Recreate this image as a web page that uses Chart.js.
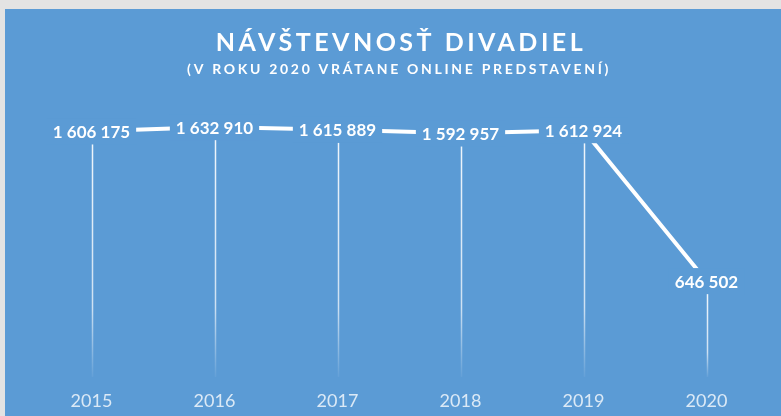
<!DOCTYPE html>
<html>
<head>
<meta charset="utf-8">
<script src="https://cdn.jsdelivr.net/npm/chart.js@4"></script>
<style>
  html, body { margin: 0; padding: 0; background: #e3e3e3; }
  #wrap { width: 781px; height: 416px; }
</style>
</head>
<body>
<div id="wrap"><canvas id="divadlaChart" width="781" height="416"></canvas></div>
<script>
  // data
  const years = ["2015", "2016", "2017", "2018", "2019", "2020"]
  const visitors = [1606175, 1632910, 1615889, 1592957, 1612924, 646502]
  const titleText = "NÁVŠTEVNOSŤ DIVADIEL"
  const subtitleText = "(V ROKU 2020 VRÁTANE ONLINE PREDSTAVENÍ)"

  const blue = "#5b9bd5"
  const fontName = "Lato, 'Open Sans', sans-serif"

  function fmt(v) {
    return String(v).replace(/\B(?=(\d{3})+(?!\d))/g, " ")
  }

  // background panel + title
  const panelPlugin = {
    id: "panel",
    beforeDraw(chart) {
      const ctx = chart.ctx
      ctx.save()
      ctx.fillStyle = "#e3e3e3"
      ctx.fillRect(0, 0, chart.width, chart.height)
      ctx.fillStyle = blue
      ctx.fillRect(5, 9, chart.width - 5, chart.height - 9)

      ctx.fillStyle = "#ffffff"
      ctx.textAlign = "center"
      ctx.textBaseline = "middle"
      ctx.letterSpacing = "3.5px"
      ctx.font = "bold 25px " + fontName
      ctx.fillText(titleText, 401, 43)
      ctx.letterSpacing = "2.7px"
      ctx.font = "bold 14px " + fontName
      ctx.fillText(subtitleText, 399, 69)
      ctx.restore()
    }
  }

  // vertical drop lines from each label down to the axis
  const dropPlugin = {
    id: "drops",
    beforeDatasetsDraw(chart) {
      const ctx = chart.ctx
      const meta = chart.getDatasetMeta(0)
      const bottom = chart.chartArea.bottom - 5
      ctx.save()
      meta.data.forEach(pt => {
        const top = pt.y + 13
        const g = ctx.createLinearGradient(0, top, 0, bottom)
        g.addColorStop(0, "rgba(255,255,255,0.9)")
        g.addColorStop(0.7, "rgba(255,255,255,0.7)")
        g.addColorStop(1, "rgba(255,255,255,0.05)")
        ctx.strokeStyle = g
        ctx.lineWidth = 1.5
        ctx.beginPath()
        ctx.moveTo(Math.round(pt.x) + 0.5, top)
        ctx.lineTo(Math.round(pt.x) + 0.5, bottom)
        ctx.stroke()
      })
      ctx.restore()
    }
  }

  // value labels sitting on the points, with blue box hiding the line
  const labelPlugin = {
    id: "valueLabels",
    afterDatasetsDraw(chart) {
      const ctx = chart.ctx
      const meta = chart.getDatasetMeta(0)
      ctx.save()
      ctx.font = "bold 17px " + fontName
      ctx.textAlign = "center"
      ctx.textBaseline = "middle"
      meta.data.forEach((pt, i) => {
        const txt = fmt(visitors[i])
        const w = ctx.measureText(txt).width + 12
        ctx.fillStyle = blue
        ctx.fillRect(pt.x - w / 2, pt.y - 13, w, 26)
        ctx.fillStyle = "#ffffff"
        ctx.fillText(txt, pt.x, pt.y + 1)
      })
      ctx.restore()
    }
  }

  new Chart(document.getElementById("divadlaChart").getContext("2d"), {
    type: "line",
    data: {
      labels: years,
      datasets: [{
        label: "návštevnosť",
        data: visitors,
        borderColor: "#ffffff",
        borderWidth: 4,
        pointRadius: 0,
        tension: 0,
        fill: false
      }]
    },
    options: {
      responsive: false,
      animation: false,
      layout: { padding: { top: 101, left: 30, right: 13, bottom: 0 } },
      plugins: {
        legend: { display: false },
        tooltip: { enabled: false },
        title: { display: false }
      },
      scales: {
        x: {
          offset: true,
          grid: { display: false, drawTicks: false },
          border: { display: false },
          ticks: {
            color: "rgba(255,255,255,0.78)",
            font: { family: fontName, size: 18 },
            padding: 8
          },
          afterFit(scale) {
            scale.height = 34
          }
        },
        y: {
          display: false,
          min: 0,
          max: 1800000
        }
      }
    },
    plugins: [panelPlugin, dropPlugin, labelPlugin]
  })
</script>
</body>
</html>
